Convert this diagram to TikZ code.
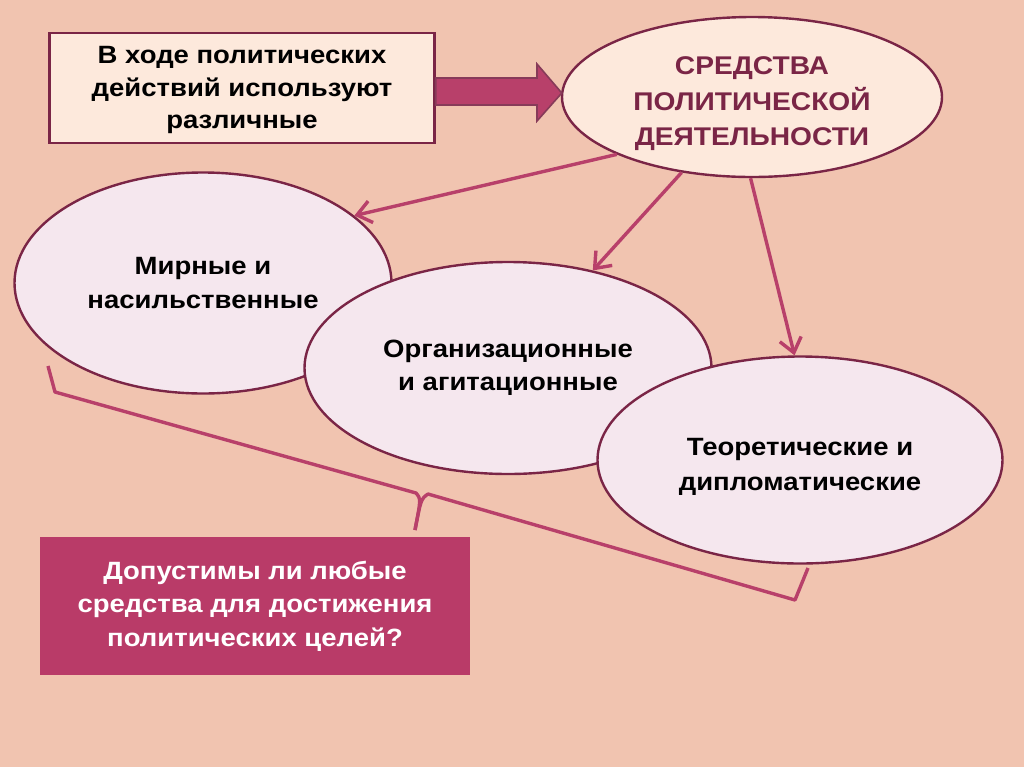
\documentclass[tikz,border=0pt]{standalone}
\usepackage{fontspec}
\setmainfont{Liberation Sans}[FakeStretch=1.1]
\usetikzlibrary{calc,shapes.geometric,arrows.meta,positioning}

\definecolor{bgpeach}{HTML}{F1C4B0}
\definecolor{boxcream}{HTML}{FDE9DC}
\definecolor{ovalpink}{HTML}{F5E7EE}
\definecolor{edgemaroon}{HTML}{7A2546}
\definecolor{linkrose}{HTML}{B8406A}
\definecolor{askbox}{HTML}{B93B68}

\begin{document}
\begin{tikzpicture}[x=0.5pt,y=-0.5pt]

% --- STYLES ---
\tikzset{
  txt/.style={font=\fontsize{12.5}{16.75}\selectfont\bfseries, align=center},
  startbox/.style={rectangle, draw=edgemaroon, fill=boxcream, line width=1.2pt,
                   minimum width=192.5pt, minimum height=55pt, inner sep=0pt,
                   font=\fontsize{12.5}{16.25}\selectfont\bfseries, align=center},
  mainoval/.style={ellipse, draw=edgemaroon, fill=boxcream, line width=1.2pt,
                   minimum width=190pt, minimum height=80pt, inner sep=0pt,
                   font=\fontsize{12.8}{17.75}\selectfont\bfseries, text=edgemaroon, align=center},
  kindoval/.style={ellipse, draw=edgemaroon, fill=ovalpink, line width=1.2pt,
                   inner sep=0pt, txt},
  askbox/.style={rectangle, fill=askbox, minimum width=215pt, minimum height=69pt,
                 inner sep=0pt, txt, text=white},
  link/.style={linkrose, line width=1.7pt, -{Straight Barb[length=7pt, width=11pt]}},
  brace/.style={linkrose, line width=1.7pt, line join=round},
  fatarrow/.style={fill=linkrose, draw=edgemaroon!90, line width=0.8pt},
}

% ================= BACKGROUND =================
\fill[bgpeach] (0,0) rectangle (1024,767);
\useasboundingbox (0,0) rectangle (1024,767);

% ================= TOP ROW =================
\node[startbox] (start) at (242,88) {\rule{0pt}{11pt}В ходе политических\\действий используют\\различные};
\node[mainoval] (means) at (752,97) {\rule{0pt}{16pt}СРЕДСТВА\\ПОЛИТИЧЕСКОЙ\\ДЕЯТЕЛЬНОСТИ};

% --- fat arrow from box to oval ---
\draw[fatarrow] (start.east |- 0,78) -- (537,78) -- (537,64) -- ($(means.west)+(1,-4)$)
  -- (537,121) -- (537,105) -- (start.east |- 0,105) -- cycle;

% ================= KINDS OF MEANS =================
\node[kindoval, minimum width=188.5pt, minimum height=110.5pt] (peace) at (203,283)
  {Мирные и\\насильственные};
\node[kindoval, minimum width=203.5pt, minimum height=106pt] (orgz) at (508,368)
  {Организационные\\и агитационные};
\node[kindoval, minimum width=202.5pt, minimum height=103.5pt,
      font=\fontsize{12.5}{17.5}\selectfont\bfseries] (theory) at (800,460)
  {\rule{0pt}{15pt}Теоретические и\\дипломатические};

\draw[link] (means.-157) -- (peace.24);
\draw[link] (means.-133) -- (orgz.49);
\draw[link] (means.-91)  -- (theory.93);

% ================= QUESTION =================
\node[askbox] (ask) at (255,606)
  {Допустимы ли любые\\средства для достижения\\политических целей?};

% --- brace under the ovals ---
\coordinate (bl)   at (48,366);
\coordinate (bc)   at (55,392);
\coordinate (cl)   at (416,493);
\coordinate (cm)   at (421,499);
\coordinate (tip)  at (415,530);
\coordinate (cr)   at (428,494);
\coordinate (rc)   at (795,600);
\coordinate (rr)   at (808,568);
\draw[brace] (bl) -- (bc) -- (cl) .. controls (cm) .. (tip);
\draw[brace] (tip) .. controls (cm) .. (cr) -- (rc) -- (rr);

\end{tikzpicture}
\end{document}
